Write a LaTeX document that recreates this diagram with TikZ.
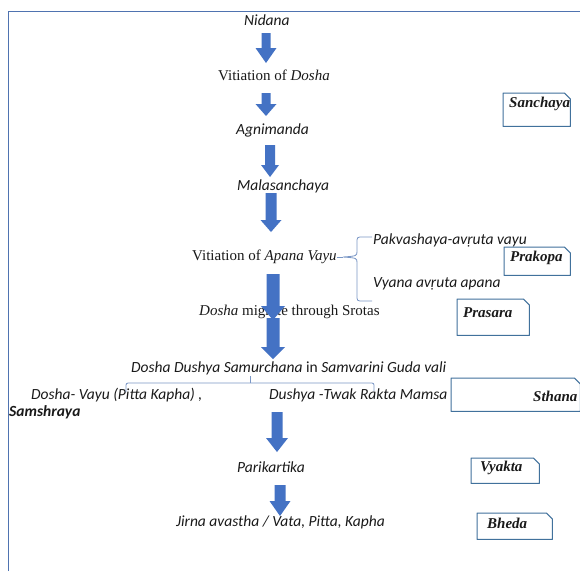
\documentclass[tikz,border=0pt]{standalone}
\usepackage{fontspec}
\setmainfont{Liberation Serif}
\newfontfamily\calib{Carlito}
\usetikzlibrary{calc}
\definecolor{arrowblue}{HTML}{4472C4}
\definecolor{boxblue}{HTML}{41719C}
\definecolor{frameblue}{HTML}{4F73B0}
\definecolor{bracegray}{HTML}{7A97C6}
\definecolor{txt}{HTML}{1A1A1A}
\tikzset{
  tm/.style={font=\fontsize{15}{18}\selectfont, text=txt, inner sep=0pt, anchor=west},
  cb/.style={font=\calib\fontsize{15.5}{18}\selectfont\itshape, text=txt, inner sep=0pt, anchor=west},
  cbb/.style={font=\calib\fontsize{15.5}{18}\selectfont\bfseries\itshape, text=txt, inner sep=0pt, anchor=west},
  stagetxt/.style={font=\fontsize{15}{18}\selectfont\bfseries\itshape, text=txt, inner sep=0pt, anchor=west},
  stagebox/.style={draw=none, rectangle, anchor=north west, inner sep=0pt},
  boxline/.style={draw=boxblue, line width=1pt, line join=round},
  braceline/.style={draw=bracegray, line width=0.8pt},
}
\newcommand\barrow[6]{% x, ytop, ybot, shaft width, head width, head length
  \fill[arrowblue] ({#1-#4/2},-#2) -- ({#1+#4/2},-#2) -- ({#1+#4/2},{-(#3-#6)})
    -- ({#1+#5/2},{-(#3-#6)}) -- (#1,-#3) -- ({#1-#5/2},{-(#3-#6)})
    -- ({#1-#4/2},{-(#3-#6)}) -- cycle;}
\newcommand\snipbox[1]{% outline of a box node with its top right corner snipped
  \draw[boxline] (#1.north west) -- ($(#1.north east)+(-6,0)$) -- ($(#1.north east)+(0,-6)$)
    -- (#1.south east) -- (#1.south west) -- cycle;}
\begin{document}
\begin{tikzpicture}[x=1pt,y=1pt]
\useasboundingbox (0,0) rectangle (580,-571);
\fill[white] (0,0) rectangle (580,-571);
% frame
\draw[frameblue, line width=1pt] (8,-571) -- (8,-11) -- (580,-11);

% main flow texts
\node[cb] (nidana) at (244,-20) {Nidana};
\node[tm] (vdosha) at (218,-75) {Vitiation of \textit{Dosha}};
\node[cb] (agni) at (236,-130) {Agnimanda};
\node[cb] (mala) at (237,-186) {Malasanchaya};
\node[tm] (apana) at (192,-257) {Vitiation of \textit{Apana Vayu}};
\node[cb] (pakva) at (373,-240) {Pakvashaya-avṛuta vayu};
\node[cb] (vyana) at (373,-284) {Vyana avṛuta apana};
\node[tm] (migr) at (199,-312) {\textit{Dosha} migrate through Srotas};
\node[cb] (samur) at (131,-368) {Dosha Dushya Samurchana {\upshape in} Samvarini Guda vali};
\node[cb] (vayu) at (31,-395) {Dosha- Vayu (Pitta Kapha) ,};
\node[cb] (twak) at (269,-395) {Dushya -Twak Rakta Mamsa};
\node[cbb] (samsh) at (9,-412) {Samshraya};
\node[cb] (pari) at (237,-467) {Parikartika};
\node[cb] (jirna) at (176,-522) {Jirna avastha / Vata, Pitta, Kapha};

% stage boxes
\node[stagebox, minimum width=67pt, minimum height=33pt] (sanchayabox) at (503,-93) {};
\snipbox{sanchayabox}
\node[stagetxt] (sanchaya) at (509,-104) {Sanchaya};
\node[stagebox, minimum width=66pt, minimum height=28pt] (prakopabox) at (504,-247) {};
\snipbox{prakopabox}
\node[stagetxt] (prakopa) at (510,-258) {Prakopa};
\node[stagebox, minimum width=72pt, minimum height=36pt] (prasarabox) at (457,-299) {};
\snipbox{prasarabox}
\node[stagetxt] (prasara) at (463,-313) {Prasara};
\node[stagebox, minimum width=129pt, minimum height=33pt] (sthanabox) at (451,-378) {};
\snipbox{sthanabox}
\node[stagetxt] (sthana) at (533,-396) {Sthana};
\node[stagebox, minimum width=68pt, minimum height=25pt] (vyaktabox) at (471,-458) {};
\snipbox{vyaktabox}
\node[stagetxt] (vyakta) at (480,-468) {Vyakta};
\node[stagebox, minimum width=75pt, minimum height=26pt] (bhedabox) at (477,-513) {};
\snipbox{bhedabox}
\node[stagetxt] (bheda) at (487,-523) {Bheda};

% brace after Apana Vayu
\coordinate (btop) at (372,-237);
\coordinate (bbot) at (372,-301);
\coordinate (btip) at (343,-257);
\draw[braceline] (apana.east) -- (btip);
\draw[braceline] (btop) -- (363,-237) .. controls (357,-237) .. (357,-243) -- (357,-251)
  .. controls (357,-256) .. (btip) .. controls (357,-258) .. (357,-263) -- (357,-295)
  .. controls (357,-301) .. (363,-301) -- (bbot);

% bracket under Samurchana
\coordinate (bl) at (126,-392);
\coordinate (br) at (374,-391);
\coordinate (bm) at (250,-376);
\draw[braceline, rounded corners=2pt] (bl) -- (126,-383) -- (374,-383) -- (br);
\draw[braceline] (250,-383) -- (bm);

% block arrows
\barrow{266}{33}{63}{9}{21}{15}
\barrow{266}{93}{116}{9}{21}{12}
\barrow{270}{145}{177}{10}{18}{12}
\barrow{271}{193}{232}{11}{21}{12}
\barrow{273}{274}{320}{13}{24}{14}
\barrow{273}{318}{359}{13}{24}{12}
\barrow{277}{412}{452}{11}{22}{14}
\barrow{280}{485}{516}{11}{21}{15}
\end{tikzpicture}
\end{document}
